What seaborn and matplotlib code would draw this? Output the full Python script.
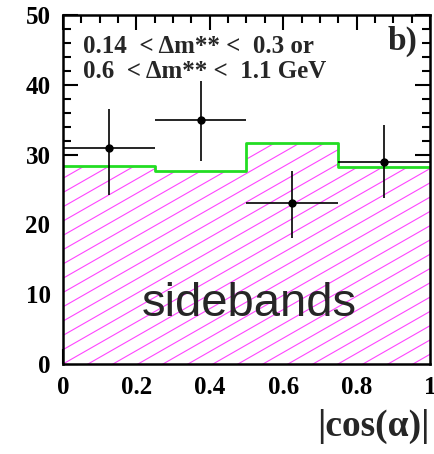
import numpy as np
import pandas as pd
import matplotlib
matplotlib.use("Agg")
import matplotlib.pyplot as plt
import matplotlib.hatch as mhatch
from matplotlib.path import Path
import seaborn as sns

# ---- data ----
bin_edges = [0.0, 0.25, 0.5, 0.75, 1.0]
bin_centers = [0.125, 0.375, 0.625, 0.875]
sideband_counts = [28.3, 27.6, 31.6, 28.2]
data_counts = [31.0, 35.0, 23.0, 29.0]
data_err_low = [6.8, 5.9, 4.9, 5.2]
data_err_high = [5.5, 5.6, 4.7, 5.3]

x_ticks = [0, 0.2, 0.4, 0.6, 0.8, 1]
x_ticklabels = ["0", "0.2", "0.4", "0.6", "0.8", "1"]
y_ticks = [0, 10, 20, 30, 40, 50]

# ---- shallow diagonal hatch (ROOT-like) ----
N_HATCH = 7      # lines per hatch tile
K_RISE = 4       # rise per tile, in line spacings
class ShallowHatch(mhatch.HatchPatternBase):
    def __init__(self, hatch, density):
        self.offsets = ([j / N_HATCH for j in range(-K_RISE, N_HATCH + 1)]
                        if "/" in hatch else [])
        self.num_lines = len(self.offsets)
        self.num_vertices = self.num_lines * 2

    def set_vertices_and_codes(self, vertices, codes):
        for i, c in enumerate(self.offsets):
            vertices[2 * i] = (0.0, c)
            vertices[2 * i + 1] = (1.0, c + K_RISE / N_HATCH)
        codes[0::2] = Path.MOVETO
        codes[1::2] = Path.LINETO

mhatch._hatch_types[:] = [ShallowHatch]

sns.set_style("ticks")
plt.rcParams["font.family"] = ["Liberation Serif", "DejaVu Serif"]
plt.rcParams["hatch.linewidth"] = 0.8

df = pd.DataFrame({"x": bin_centers, "w": sideband_counts})

fig = plt.figure(figsize=(4.35, 4.54), dpi=100)
ax = fig.add_axes([63 / 435, 90 / 454, 367 / 435, 349 / 454])

sns.histplot(data=df, x="x", weights="w", bins=bin_edges, element="bars",
             fill=True, color="white", ax=ax)
for p in ax.patches:
    p.set_facecolor("white")
    p.set_edgecolor("#ff44ff")
    p.set_linewidth(0)
    p.set_hatch("/")

sns.histplot(data=df, x="x", weights="w", bins=bin_edges, element="step",
             fill=False, color="#22dd22", linewidth=2.0, ax=ax)

half_width = [(bin_edges[i + 1] - bin_edges[i]) / 2 for i in range(len(bin_centers))]
ax.errorbar(bin_centers, data_counts, xerr=half_width,
            yerr=[data_err_low, data_err_high], fmt="o", color="black",
            ms=5, lw=1.2, capsize=0, zorder=5)

ax.set_xlim(0, 1)
ax.set_ylim(0, 50)
ax.set_xticks(x_ticks)
ax.set_xticklabels(x_ticklabels)
ax.set_yticks(y_ticks)
ax.xaxis.set_minor_locator(matplotlib.ticker.MultipleLocator(0.05))
ax.yaxis.set_minor_locator(matplotlib.ticker.MultipleLocator(2))
ax.tick_params(which="both", direction="in", top=True, right=True,
               width=1.5, colors="black")
ax.tick_params(which="major", length=11, labelsize=18, pad=9)
ax.tick_params(which="minor", length=5.5)
for lab in ax.get_xticklabels() + ax.get_yticklabels():
    lab.set_fontweight("bold")
for s in ax.spines.values():
    s.set_linewidth(1.8)
    s.set_color("black")
    s.set_visible(True)

ax.set_ylabel("")
ax.set_xlabel("|cos(α)|", loc="right", fontsize=27, fontweight="bold", labelpad=7)

ax.text(0.055, 44.6, "0.14  < Δm** <  0.3 or", fontsize=18, fontweight="bold",
        ha="left", va="baseline")
ax.text(0.055, 41.0, "0.6  < Δm** <  1.1 GeV", fontsize=18, fontweight="bold",
        ha="left", va="baseline")
ax.text(0.967, 45.0, "b)", fontsize=24, fontweight="bold", ha="right", va="baseline")
ax.text(0.507, 6.9, "sidebands", fontsize=34, family=["Liberation Sans", "DejaVu Sans"],
        ha="center", va="baseline")

fig.savefig("out.png", dpi=100)
